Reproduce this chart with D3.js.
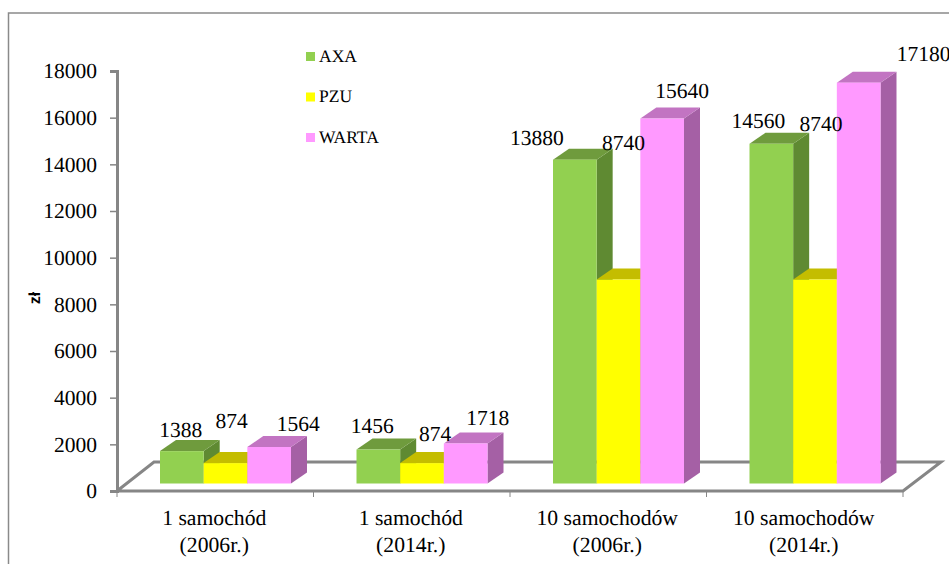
<!DOCTYPE html>
<html>
<head>
<meta charset="utf-8">
<script src="https://cdn.jsdelivr.net/npm/d3@7"></script>
<style>
  html, body { margin: 0; padding: 0; background: #fff; overflow: hidden; }
  text { font-family: "Liberation Serif", serif; fill: #000; text-rendering: geometricPrecision; }
</style>
</head>
<body>
<script>
// dane
const categories = [["1 samochód", "(2006r.)"], ["1 samochód", "(2014r.)"], ["10 samochodów", "(2006r.)"], ["10 samochodów", "(2014r.)"]];
const seriesNames = ["AXA", "PZU", "WARTA"];
const axa = [1388, 1456, 13880, 14560];
const pzu = [874, 874, 8740, 8740];
const warta = [1564, 1718, 15640, 17180];
const yTicks = [0, 2000, 4000, 6000, 8000, 10000, 12000, 14000, 16000, 18000];

// kolory: front, top, side
const colors = [
    { front: "#92d050", top: "#6f9b3d", side: "#5f8a32" },
    { front: "#ffff00", top: "#c4bd00", side: "#a8a200" },
    { front: "#ff99ff", top: "#c274c2", side: "#a560a5" }
];

// przesuniecia etykiet wzgledem gornej krawedzi slupka [seria][kategoria]
const labelOffsets = [
    [[-1, -14], [-6, -17], [-38, -15], [-13, -16]],
    [[6, -35], [13, -22], [5, -130], [6, -149]],
    [[29, -16], [22, -18], [20, -21], [65, -22]]
];

const width = 949, height = 564;
const x0 = 117, x1 = 903, yBase = 491, yTop = 71;
const depthX = 16, depthY = 11;     // glebokosc slupka
const floorX = 37, floorY = 29;     // glebokosc podlogi
const frontGap = 7.5;               // slupki stoja nad przednia krawedzia
const axisColor = "#868686";

const svg = d3.select("body").append("svg")
    .attr("width", width)
    .attr("height", height)
    .style("display", "block");

const xScale = d3.scaleBand().domain(d3.range(categories.length)).range([x0, x1]).paddingInner(0).paddingOuter(0);
const ySeries = d3.scaleBand().domain(d3.range(seriesNames.length)).range([43, 174]);
const yScale = d3.scaleLinear().domain([0, 18000]).range([yBase, yTop]);

// ramka
svg.append("path")
    .attr("d", d3.line()([[8.5, height], [8.5, 13], [width, 13]]))
    .attr("fill", "none")
    .attr("stroke", "#8a8a8a")
    .attr("stroke-width", 1.5);

// podloga
svg.append("path")
    .attr("d", d3.line()([[x0, yBase], [x0 + floorX, yBase - floorY], [x1 + floorX + 1, yBase - floorY], [x1, yBase], [x0, yBase]]))
    .attr("fill", "none")
    .attr("stroke", axisColor)
    .attr("stroke-width", 3);

// os Y
const yAxis = svg.append("g")
    .attr("transform", `translate(${x0},0)`)
    .call(d3.axisLeft(yScale).tickValues(yTicks).tickFormat(d3.format("d")).tickSize(7).tickPadding(13));
yAxis.select(".domain").attr("stroke", axisColor).attr("stroke-width", 3);
yAxis.selectAll(".tick line").attr("stroke", axisColor).attr("stroke-width", 1.5);
yAxis.selectAll(".tick text").attr("font-size", 21.5).attr("font-family", "Liberation Serif");

// os X
const xAxis = svg.append("g").attr("transform", `translate(0,${yBase})`);
xAxis.selectAll("line")
    .data(d3.range(categories.length + 1))
    .join("line")
    .attr("x1", d => x0 + d * xScale.step())
    .attr("x2", d => x0 + d * xScale.step())
    .attr("y1", 0)
    .attr("y2", 6)
    .attr("stroke", axisColor)
    .attr("stroke-width", 1);

const catX = i => xScale(i) + xScale.step() / 2 - 1;
const catLabels = xAxis.selectAll("text")
    .data(categories)
    .join("text")
    .attr("text-anchor", "middle")
    .attr("font-size", 21.7)
    .attr("x", (d, i) => catX(i));
catLabels.append("tspan").attr("y", 34).attr("x", (d, i) => catX(i)).text(d => d[0]);
catLabels.append("tspan").attr("y", 61).attr("x", (d, i) => catX(i)).text(d => d[1]);

// slupki 3D
[axa, pzu, warta].forEach((values, s) => {
    const g = svg.append("g").attr("class", "series-" + seriesNames[s]);
    values.forEach((v, c) => {
        const bx = xScale(c) + ySeries(s), bw = ySeries.bandwidth();
        const by = yScale(v) - frontGap, bb = yBase - frontGap;
        g.append("path")
            .attr("fill", colors[s].side)
            .attr("d", d3.line()([[bx + bw, by], [bx + bw + depthX, by - depthY], [bx + bw + depthX, bb - depthY], [bx + bw, bb]]));
        g.append("path")
            .attr("fill", colors[s].top)
            .attr("d", d3.line()([[bx, by], [bx + depthX, by - depthY], [bx + bw + depthX, by - depthY], [bx + bw, by]]));
        g.append("rect")
            .attr("fill", colors[s].front)
            .attr("x", bx)
            .attr("y", by)
            .attr("width", bw)
            .attr("height", bb - by);
    });
});

// etykiety wartosci
[axa, pzu, warta].forEach((values, s) => {
    svg.append("g").selectAll("text")
        .data(values)
        .join("text")
        .attr("text-anchor", "middle")
        .attr("font-size", 21.5)
        .attr("x", (d, c) => xScale(c) + ySeries(s) + ySeries.bandwidth() / 2 + labelOffsets[s][c][0])
        .attr("y", (d, c) => yScale(d) - frontGap + labelOffsets[s][c][1])
        .text(d => d);
});

// legenda
const legend = svg.append("g").selectAll("g")
    .data(seriesNames)
    .join("g")
    .attr("transform", (d, i) => `translate(306,${56.5 + i * 40.5})`);
legend.append("rect")
    .attr("y", -4.5)
    .attr("width", 9)
    .attr("height", 9)
    .attr("fill", (d, i) => colors[i].front);
legend.append("text")
    .attr("x", 13)
    .attr("y", 5)
    .attr("font-size", 17.5)
    .text(d => d);

// tytul osi
svg.append("text")
    .attr("transform", "translate(40,298) rotate(-90)")
    .attr("text-anchor", "middle")
    .attr("font-size", 16)
    .attr("font-weight", "bold")
    .style("font-family", "Liberation Sans, sans-serif")
    .text("zł");
</script>
</body>
</html>
